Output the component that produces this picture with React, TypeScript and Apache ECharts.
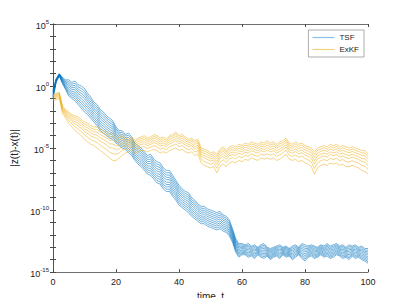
import React, { useEffect, useRef } from "react";
import * as echarts from "echarts";

// time samples
const times: number[] = Array.from({ length: 101 }, (_, i) => i);

// log10 of upper / lower envelope of the TSF bundle
const tsfUpper: number[] = [
  -0.3, 0.6, 1.0, 0.7, 0.5, 0.5, 0.3, 0.4, 0.1, 0.0,
  -0.2, -0.6, -0.9, -1.3, -1.5, -1.9, -2.1, -2.4, -2.6, -2.8,
  -3.3, -3.6, -3.6, -3.9, -3.8, -4.1, -4.6, -4.8, -5.0, -5.3,
  -5.6, -5.5, -5.9, -6.1, -6.2, -6.6, -6.8, -6.8, -7.2, -7.6,
  -8.0, -8.3, -8.5, -8.6, -9.0, -9.2, -9.5, -9.7, -9.7, -9.9,
  -10.0, -10.1, -10.2, -10.1, -10.4, -10.5, -10.8, -11.5, -12.3, -12.7,
  -12.7, -12.8, -12.7, -12.9, -12.8, -13.0, -12.8, -12.7, -13.0, -13.1,
  -13.0, -12.9, -12.8, -13.0, -12.9, -13.1, -12.9, -12.8, -13.0, -12.7,
  -12.8, -12.9, -12.8, -12.9, -13.0, -12.8, -12.9, -12.7, -12.9, -12.8,
  -12.7, -12.9, -12.8, -13.0, -12.8, -12.9, -12.8, -13.0, -12.9, -13.1,
  -13.1,
];
const tsfLower: number[] = [
  -1.0, 0.3, 0.8, 0.2, -0.3, -0.8, -1.0, -1.2, -1.5, -1.8,
  -2.1, -2.3, -2.6, -2.9, -3.2, -3.6, -3.8, -4.0, -4.2, -4.3,
  -4.6, -4.8, -5.0, -5.1, -5.4, -5.6, -6.0, -6.3, -6.5, -6.8,
  -7.1, -7.2, -7.5, -7.8, -7.9, -8.3, -8.5, -8.5, -8.9, -9.2,
  -9.6, -9.8, -10.0, -10.2, -10.5, -10.7, -10.9, -11.1, -11.1, -11.3,
  -11.4, -11.5, -11.6, -11.5, -11.7, -11.8, -12.1, -12.6, -13.4, -13.8,
  -13.6, -13.6, -13.8, -13.7, -13.9, -13.6, -13.8, -13.9, -13.7, -14.0,
  -13.8, -13.7, -13.9, -13.6, -13.8, -13.7, -14.0, -13.8, -13.6, -13.9,
  -14.1, -13.8, -13.7, -13.9, -13.8, -13.6, -13.8, -13.7, -13.9, -13.8,
  -13.6, -13.7, -13.9, -13.8, -14.0, -13.7, -13.9, -13.8, -14.0, -14.1,
  -14.3,
];

// log10 of upper / lower envelope of the ExKF bundle
const exkfUpper: number[] = [
  -0.7, -0.6, -0.5, -1.6, -1.9, -2.1, -2.3, -2.4, -2.5, -2.7,
  -2.9, -3.0, -3.2, -3.3, -3.3, -3.5, -3.6, -3.7, -3.9, -3.8,
  -4.0, -4.2, -3.9, -4.2, -4.3, -4.1, -4.4, -4.2, -4.1, -4.0,
  -4.2, -4.1, -3.9, -4.0, -4.2, -4.1, -4.3, -4.0, -3.9, -3.7,
  -4.0, -3.9, -4.1, -4.3, -4.2, -4.4, -4.3, -5.0, -5.1, -5.2,
  -5.4, -5.3, -5.5, -5.1, -4.9, -5.2, -4.9, -4.8, -4.9, -4.7,
  -4.8, -4.6, -4.7, -4.5, -4.6, -4.7, -4.5, -4.6, -4.4, -4.6,
  -4.5, -4.7, -4.5, -4.4, -4.2, -4.6, -4.7, -4.5, -4.7, -4.6,
  -4.8, -4.9, -5.0, -5.3, -5.0, -4.9, -4.8, -4.9, -4.7, -4.8,
  -4.7, -4.9, -4.8, -4.9, -5.0, -4.9, -5.0, -5.1, -5.2, -5.2,
  -5.5,
];
const exkfLower: number[] = [
  -1.2, -1.1, -1.0, -2.2, -2.6, -3.0, -3.3, -3.6, -3.8, -4.0,
  -4.3, -4.5, -4.7, -4.8, -5.0, -5.2, -5.4, -5.6, -5.8, -6.0,
  -6.0, -5.8, -5.6, -5.4, -5.3, -5.1, -5.4, -5.3, -5.2, -5.2,
  -5.3, -5.2, -5.1, -5.2, -5.4, -5.3, -5.4, -5.2, -5.1, -5.0,
  -5.2, -5.1, -5.3, -5.4, -5.3, -5.6, -5.5, -6.2, -6.4, -6.5,
  -6.6, -6.5, -7.0, -6.5, -6.3, -6.5, -6.2, -6.1, -6.2, -6.0,
  -6.1, -5.9, -6.0, -5.8, -5.9, -6.0, -5.8, -5.9, -5.8, -5.9,
  -5.8, -6.0, -5.9, -5.7, -5.5, -5.9, -6.0, -5.9, -6.1, -6.0,
  -6.2, -6.3, -6.5, -7.1, -6.6, -6.4, -6.3, -6.4, -6.2, -6.3,
  -6.2, -6.4, -6.3, -6.5, -6.5, -6.4, -6.5, -6.6, -6.8, -6.9,
  -7.1,
];

// relative position of each run inside its bundle (0 = upper, 1 = lower)
const tsfRuns: number[] = [0, 0.11, 0.22, 0.33, 0.44, 0.56, 0.67, 0.78, 0.89, 1];
const exkfRuns: number[] = [0, 0.12, 0.25, 0.4, 0.55, 0.75, 1];

const xTicks: number[] = [0, 20, 40, 60, 80, 100];

const BLUE = "#0072BD";
const ORANGE = "#EDB120";
const FONT = "Liberation Sans, Arial, sans-serif";
const AXIS = "#4a4a4a";

function buildRun(upper: number[], lower: number[], f: number) {
  return times.map((t, i) => [t, Math.pow(10, upper[i] + (lower[i] - upper[i]) * f)]);
}

export default function App() {
  const ref = useRef<HTMLDivElement>(null);
  useEffect(() => {
    if (!ref.current) return;
    const chart = echarts.init(ref.current, undefined, { renderer: "svg" });
    const series: any[] = [];
    tsfRuns.forEach((f) =>
      series.push({
        name: "TSF",
        type: "line",
        data: buildRun(tsfUpper, tsfLower, f),
        symbol: "none",
        lineStyle: { width: 0.55, color: BLUE },
        itemStyle: { color: BLUE },
        silent: true,
      })
    );
    exkfRuns.forEach((f) =>
      series.push({
        name: "ExKF",
        type: "line",
        data: buildRun(exkfUpper, exkfLower, f),
        symbol: "none",
        lineStyle: { width: 0.55, color: ORANGE },
        itemStyle: { color: ORANGE },
        silent: true,
      })
    );
    const yLabel = (v: number) => {
      const e = Math.round(Math.log10(v));
      if (e % 5 !== 0) return "";
      return `{b|10}{s|${e}}`;
    };
    chart.setOption({
      animation: false,
      backgroundColor: "#fff",
      grid: { left: 53, right: 39, top: 24, bottom: 33, containLabel: false },
      legend: {
        data: [
          { name: "TSF", icon: "rect", itemStyle: { color: "#8fbfe6", borderWidth: 0 } },
          { name: "ExKF", icon: "rect", itemStyle: { color: "#f3d07a", borderWidth: 0 } },
        ],
        orient: "vertical",
        right: 43,
        top: 30,
        itemWidth: 22,
        itemHeight: 1.2,
        itemGap: 3,
        padding: [3, 5, 3, 4],
        borderColor: "#777",
        borderWidth: 0.6,
        backgroundColor: "#fff",
        textStyle: { fontFamily: FONT, fontSize: 8, color: "#222", lineHeight: 9 },
      },
      xAxis: [
        {
          type: "value",
          min: 0,
          max: 100,
          interval: 20,
          name: "time, t",
          nameLocation: "middle",
          nameGap: 17,
          nameTextStyle: { fontFamily: FONT, fontSize: 10, color: "#222" },
          axisLine: { lineStyle: { color: AXIS, width: 0.8 } },
          axisTick: { inside: true, length: 3, lineStyle: { color: AXIS } },
          axisLabel: {
            fontFamily: FONT,
            fontSize: 9,
            color: "#222",
            margin: 5,
            formatter: (v: number) => (xTicks.includes(v) ? String(v) : ""),
          },
          splitLine: { show: false },
        },
        {
          type: "value",
          position: "top",
          min: 0,
          max: 100,
          interval: 20,
          axisLine: { lineStyle: { color: AXIS, width: 0.8 } },
          axisTick: { inside: true, length: 3, lineStyle: { color: AXIS } },
          axisLabel: { show: false },
          splitLine: { show: false },
        },
      ],
      yAxis: [
        {
          type: "log",
          logBase: 10,
          min: 1e-15,
          max: 1e5,
          interval: 1,
          name: "|z(t)-x(t)|",
          nameLocation: "middle",
          nameGap: 30,
          nameTextStyle: { fontFamily: FONT, fontSize: 10, color: "#222" },
          axisLine: { lineStyle: { color: AXIS, width: 0.8 } },
          axisTick: { inside: true, length: 3, lineStyle: { color: AXIS } },
          axisLabel: {
            margin: 4,
            formatter: yLabel,
            rich: {
              b: { fontFamily: FONT, fontSize: 9, color: "#222", padding: [4, 0, 0, 0] },
              s: { fontFamily: FONT, fontSize: 6, color: "#222", padding: [0, 0, 5, 0] },
            },
          },
          splitLine: { show: false },
        },
        {
          type: "log",
          logBase: 10,
          position: "right",
          min: 1e-15,
          max: 1e5,
          interval: 1,
          axisLine: { lineStyle: { color: AXIS, width: 0.8 } },
          axisTick: { inside: true, length: 3, lineStyle: { color: AXIS } },
          axisLabel: { show: false },
          splitLine: { show: false },
        },
      ],
      series,
    });
    return () => chart.dispose();
  }, []);
  return <div ref={ref} style={{ width: 407, height: 306, margin: -8 }} />;
}
